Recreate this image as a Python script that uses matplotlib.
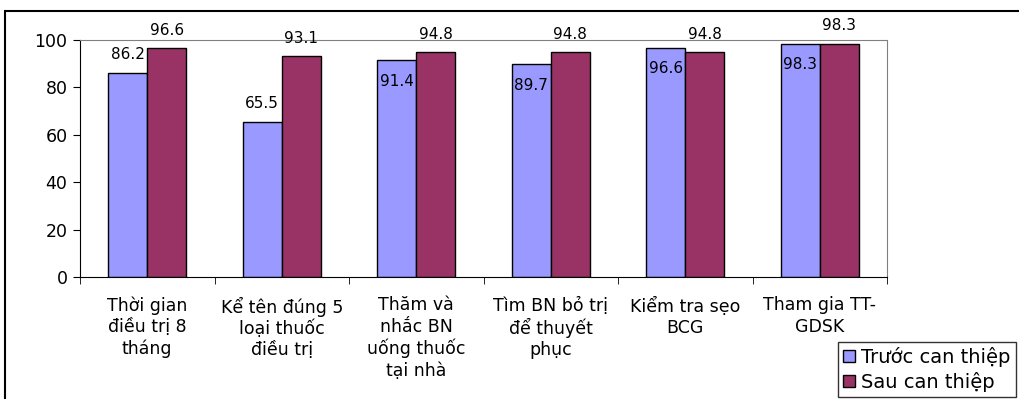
import matplotlib.pyplot as plt
import numpy as np
from matplotlib.patches import Rectangle

categories = ['Thời gian\nđiều trị 8\ntháng', 'Kể tên đúng 5\nloại thuốc\nđiều trị',
              'Thăm và\nnhắc BN\nuống thuốc\ntại nhà', 'Tìm BN bỏ trị\nđể thuyết\nphục',
              'Kiểm tra sẹo\nBCG', 'Tham gia TT-\nGDSK']
truoc = [86.2, 65.5, 91.4, 89.7, 96.6, 98.3]
sau = [96.6, 93.1, 94.8, 94.8, 94.8, 98.3]
series_names = ['Trước can thiệp', 'Sau can thiệp']

plt.rcParams['font.family'] = ['DejaVu Sans']

fig = plt.figure(figsize=(10.19, 3.99), dpi=100)
ax = fig.add_axes([80/1019, 1 - 277/399, 807/1019, 237/399])

x = np.arange(len(categories))
w = 0.29
b1 = ax.bar(x - w/2, truoc, w, color='#9999FF', edgecolor='black', linewidth=1, label=series_names[0])
b2 = ax.bar(x + w/2, sau, w, color='#993366', edgecolor='black', linewidth=1, label=series_names[1])

# value labels: blue ones near the red label go inside the bar
for xi, v in zip(x - w/2, truoc):
    off = -15 if v > 88 else 13
    ax.annotate(f'{v:.1f}', (xi, v), xytext=(0, off), textcoords='offset points',
                ha='center', va='center', fontsize=11)
for xi, v in zip(x + w/2, sau):
    ax.annotate(f'{v:.1f}', (xi, v), xytext=(0, 13), textcoords='offset points',
                ha='center', va='center', fontsize=11, annotation_clip=False)

ax.set_xlim(-0.5, len(categories) - 0.5)
ax.set_ylim(0, 100)
ax.set_yticks([0, 20, 40, 60, 80, 100])
ax.tick_params(axis='y', direction='out', length=5, labelsize=12.5, pad=4)
ax.set_xticks(x)
ax.set_xticklabels(categories, fontsize=12.5, linespacing=1.22)
ax.tick_params(axis='x', which='major', length=0, pad=14)
ax.set_xticks(np.arange(-0.5, len(categories)), minor=True)
ax.tick_params(axis='x', which='minor', direction='out', length=5)

ax.spines['top'].set_color('#808080')
ax.spines['right'].set_color('#808080')
ax.spines['left'].set_color('black')
ax.spines['bottom'].set_color('black')

leg = fig.legend(handles=[b1, b2], loc='upper left', bbox_to_anchor=(838/1019, 1 - 342/399),
                 fontsize=14, frameon=True, fancybox=False, edgecolor='black',
                 handlelength=0.6, handleheight=0.6, handletextpad=0.35,
                 borderpad=0.25, labelspacing=0.25, borderaxespad=0)
leg.get_frame().set_linewidth(1)

# outer chart border
fig.patches.append(Rectangle((5/1019, -0.5), 2, 0.5 + 1 - 11/399, transform=fig.transFigure,
                             fill=False, edgecolor='black', linewidth=1.5))

fig.savefig('out.png', dpi=100)
